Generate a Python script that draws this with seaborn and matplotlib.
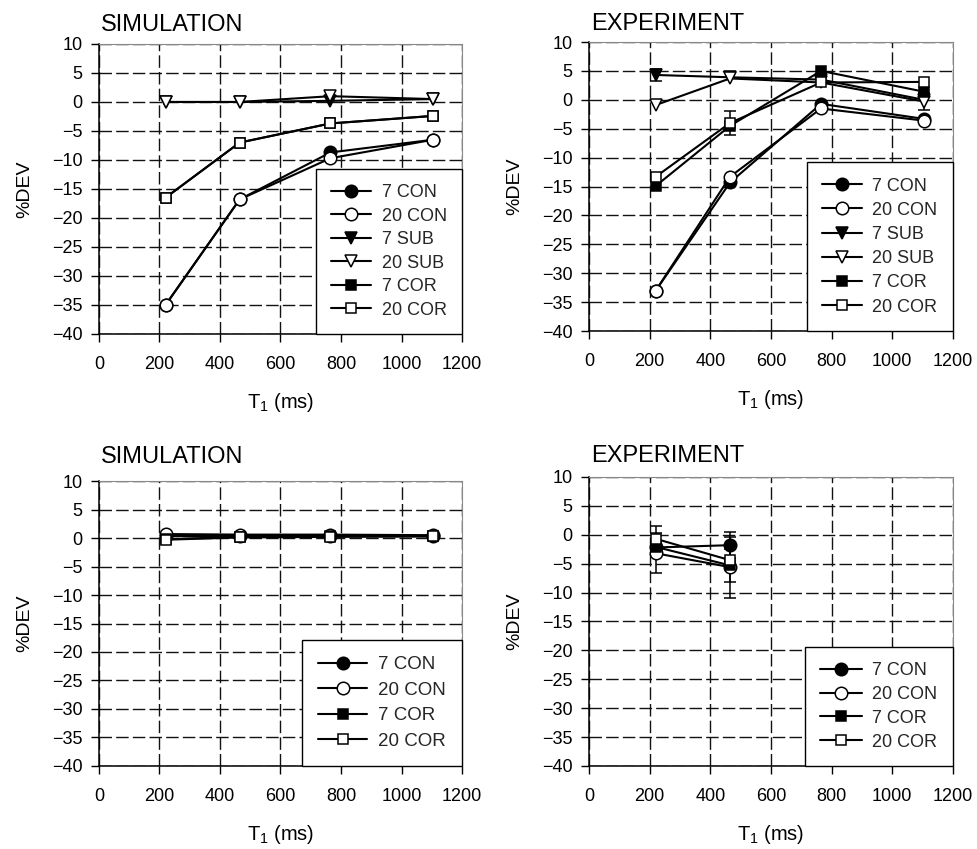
import matplotlib
matplotlib.use("Agg")
import matplotlib.pyplot as plt
import seaborn as sns
import numpy as np
import pandas as pd

sns.set_theme(style="white")
plt.rcParams['font.family'] = ['Liberation Sans', 'DejaVu Sans']
plt.rcParams['mathtext.fontset'] = 'custom'
plt.rcParams['mathtext.rm'] = 'Liberation Sans'
plt.rcParams['mathtext.it'] = 'Liberation Sans:italic'
plt.rcParams['lines.scale_dashes'] = False
plt.rcParams['axes.unicode_minus'] = True

# ---------------- data ----------------
t1 = [220, 465, 765, 1105]

# top-left: simulation
sim1_7con = [-35.0, -16.8, -8.7, -6.5]
sim1_20con = [-35.0, -16.8, -9.7, -6.5]
sim1_7sub = [0.0, 0.0, 0.2, 0.5]
sim1_20sub = [0.0, 0.0, 1.0, 0.5]
sim1_7cor = [-16.5, -7.0, -3.7, -2.4]
sim1_20cor = [-16.5, -7.0, -3.7, -2.4]

# top-right: experiment
exp1_7con = [-33.0, -14.3, -0.7, -3.3]
exp1_20con = [-33.0, -13.3, -1.5, -3.6]
exp1_7sub = [4.3, 3.9, 3.5, 0.0]
exp1_20sub = [-0.9, 3.7, 3.0, -0.3]
exp1_7cor = [-14.9, -4.5, 5.0, 1.4]
exp1_20cor = [-13.3, -4.0, 3.0, 3.1]
exp1_err_7sub = [1.1, 0, 0, 0]
exp1_err_20sub = [0, 0, 0, 1.5]
exp1_err_20cor = [0, 2.0, 0, 0]

# bottom-left: simulation
sim2_7con = [0.3, 0.3, 0.3, 0.3]
sim2_20con = [0.7, 0.6, 0.6, 0.5]
sim2_7cor = [-0.2, 0.2, 0.3, 0.3]
sim2_20cor = [-0.3, 0.1, 0.2, 0.3]

# bottom-right: experiment (two delays only)
t1_exp2 = [220, 465]
exp2_7con = [-2.2, -1.8]
exp2_20con = [-3.2, -5.6]
exp2_7cor = [-2.1, -5.3]
exp2_20cor = [-0.7, -4.4]
exp2_err_7con = [0, 2.2]
exp2_err_20con = [3.5, 5.3]
exp2_err_7cor = [0, 2.8]
exp2_err_20cor = [2.3, 0]

labels6 = ["7 CON", "20 CON", "7 SUB", "20 SUB", "7 COR", "20 COR"]
labels4 = ["7 CON", "20 CON", "7 COR", "20 COR"]

style = {
    "7 CON": dict(marker="o", mfc="black", ms=9),
    "20 CON": dict(marker="o", mfc="white", ms=9),
    "7 SUB": dict(marker="v", mfc="black", ms=9),
    "20 SUB": dict(marker="v", mfc="white", ms=9),
    "7 COR": dict(marker="s", mfc="black", ms=7.5),
    "20 COR": dict(marker="s", mfc="white", ms=7.5),
}

fig = plt.figure(figsize=(9.77, 8.49), dpi=100)
positions = [
    [0.1013, 0.6066, 0.3716, 0.3416],
    [0.6029, 0.6101, 0.3725, 0.3404],
    [0.1013, 0.0978, 0.3716, 0.3356],
    [0.6029, 0.0978, 0.3725, 0.3404],
]
titles = ["SIMULATION", "EXPERIMENT", "SIMULATION", "EXPERIMENT"]
title_pads = [9, 9, 13, 11]
leg_font = [13, 13, 13.5, 13]
leg_handle = [2.2, 2.2, 2.6, 2.3]
leg_spacing = [0.36, 0.4, 0.45, 0.38]

panels = [
    (t1, labels6, [sim1_7con, sim1_20con, sim1_7sub, sim1_20sub, sim1_7cor, sim1_20cor], None),
    (t1, labels6, [exp1_7con, exp1_20con, exp1_7sub, exp1_20sub, exp1_7cor, exp1_20cor],
     [None, None, exp1_err_7sub, exp1_err_20sub, None, exp1_err_20cor]),
    (t1, labels4, [sim2_7con, sim2_20con, sim2_7cor, sim2_20cor], None),
    (t1_exp2, labels4, [exp2_7con, exp2_20con, exp2_7cor, exp2_20cor],
     [exp2_err_7con, exp2_err_20con, exp2_err_7cor, exp2_err_20cor]),
]

for i, (pos, (xs, labs, series, errs)) in enumerate(zip(positions, panels)):
    ax = fig.add_axes(pos)
    ax.set_facecolor("white")
    if errs is not None:
        for vals, e in zip(series, errs):
            if e is None or not any(e):
                continue
            ex = [x for x, ee in zip(xs, e) if ee]
            ey = [v for v, ee in zip(vals, e) if ee]
            ee_ = [ee for ee in e if ee]
            ax.errorbar(ex, ey, yerr=ee_, fmt="none", ecolor="black",
                        elinewidth=1.1, capsize=4, capthick=1.1, zorder=2)
    for lab, vals in zip(labs, series):
        st = style[lab]
        df = pd.DataFrame({"T1": xs, "DEV": vals})
        sns.lineplot(data=df, x="T1", y="DEV", ax=ax, color="black", lw=1.5,
                     marker=st["marker"], markersize=st["ms"],
                     markerfacecolor=st["mfc"], markeredgecolor="black",
                     markeredgewidth=1.1, label=lab, zorder=3)
    ax.set_xlim(0, 1200)
    ax.set_ylim(-40, 10)
    ax.set_xticks(np.arange(0, 1201, 200))
    ax.set_yticks(np.arange(-40, 11, 5))
    ax.grid(True, color="#111111", lw=1.0, ls=(0, (9, 3)))
    ax.set_axisbelow(True)
    for s in ["top", "right"]:
        ax.spines[s].set_color("#888888")
        ax.spines[s].set_linewidth(0.8)
    for s in ["left", "bottom"]:
        ax.spines[s].set_color("black")
        ax.spines[s].set_linewidth(1.1)
    ax.tick_params(axis="x", direction="out", length=6, width=1, pad=10,
                   labelsize=13, colors="black", bottom=True)
    ax.tick_params(axis="y", direction="out", length=6, width=1, pad=6,
                   labelsize=13, colors="black", left=True)
    ax.set_xlabel(r"T$_\mathregular{1}$ (ms)", fontsize=14.5, labelpad=13, color="black")
    ax.set_ylabel("%DEV", fontsize=14, labelpad=13, color="black")
    ax.set_title(titles[i], loc="left", fontsize=17, pad=title_pads[i], color="black", x=0.005)
    leg = ax.legend(loc="lower right", borderaxespad=0, fontsize=leg_font[i],
                    handlelength=leg_handle[i], handletextpad=0.6, labelspacing=leg_spacing[i],
                    borderpad=0.85, frameon=True, fancybox=False, framealpha=1)
    leg.get_frame().set_edgecolor("black")
    leg.get_frame().set_linewidth(1.0)
    leg.set_zorder(5)

fig.savefig("out.png", dpi=100, facecolor="white")
